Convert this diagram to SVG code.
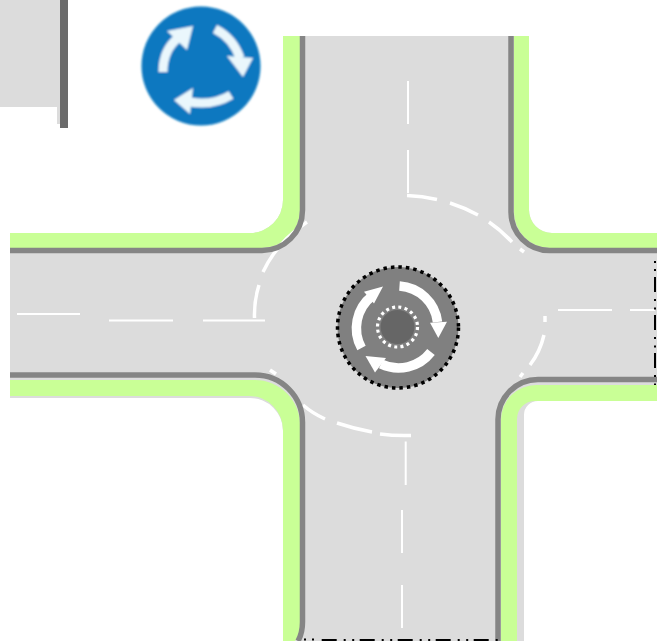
<svg xmlns="http://www.w3.org/2000/svg" width="659" height="641" viewBox="0 0 659 641">
<defs>
<style>
.road{fill:#dcdcdc}
.green{fill:#c9ff96}
.kerb{fill:none;stroke:#858585;stroke-width:5.5}
.mark{fill:none;stroke:#fff;stroke-width:2}
.ring{fill:none;stroke:#fff;stroke-width:3.2}
.arw{fill:none;stroke:#fff;stroke-width:9.5}
.head{fill:#fff}
.sa{fill:none;stroke:#eaf7fc;stroke-width:9}
.sh{fill:#eaf7fc}
.edge{fill:none;stroke:#000;stroke-width:2;stroke-dasharray:15 7 2 6.5 2 5.5}
</style>
<filter id="soft" x="-10%" y="-10%" width="120%" height="120%"><feGaussianBlur stdDeviation="0.8"/></filter>
</defs>
<rect width="659" height="641" fill="#fff"/>
<g id="legend-fragment">
<rect x="0" y="0" width="60" height="107" class="road"/>
<rect x="57" y="107" width="3" height="17" class="road"/>
<rect x="60" y="0" width="8" height="128" fill="#6b6b6b"/>
</g>
<g id="sign" filter="url(#soft)">
<circle cx="201" cy="66" r="59.500" fill="#0a78c0"/>
<path class="sa" d="M215,29 Q233,38 240,58"/><path class="sh" d="M227,56 L253,58 L243,77Z"/>
<path class="sa" d="M163,72 Q163,50 178,38"/><path class="sh" d="M167,31 L193,26 L187,50Z"/>
<path class="sa" d="M231,95 Q213,106 190,102"/><path class="sh" d="M193,88 L174,100 L190,114Z"/>
</g>
<g id="road">
<path class="road" d="M283,36 H529 V210 A23,23 0 0 0 552,233 H657 V401 H538 A14,14 0 0 0 524,415 V641 H283 V431 A33,33 0 0 0 250,398 H10 V233 H250 A33,33 0 0 0 283,200 Z"/>
<path class="green" d="M283,36 H300 V210 A38,38 0 0 1 262,248 H10 V233 H250 A33,33 0 0 0 283,200 Z"/>
<path class="green" d="M514,36 H529 V210 A23,23 0 0 0 552,233 H657 V248 H550 A36,36 0 0 1 514,212 Z"/>
<path class="green" d="M10,380 H255 A45,45 0 0 1 300,425 V625 Q300,634 295,641 H283 V430 A34,34 0 0 0 249,396 H10 Z"/>
<path class="green" d="M501,641 V420 A35,35 0 0 1 536,385 H657 V401 H535 A18,18 0 0 0 517,419 V641 Z"/>
</g>
<g id="markings">
<path class="mark" d="M408,81 V124 M408,150 V193"/>
<path class="mark" d="M17,314 H80 M109,320.500 H173 M203,320.500 H265"/>
<path class="mark" d="M558,310 H612 M630,310 H655"/>
<path class="mark" d="M405.700,441.500 V485 M402,510 V553 M402,585 V628"/>
<g fill="none" stroke="#fff" stroke-width="3.500">
<path d="M254.500,318 A146,120 0 0 1 259,285"/>
<path d="M263,272 A146,120 0 0 1 307,222"/>
<path d="M407,195.500 A146,120 0 0 1 437,199.500"/>
<path d="M450,203 A146,120 0 0 1 478,215"/>
<path d="M489,222 A146,120 0 0 1 512,242"/>
<path d="M520,249 L524,252"/>
<path d="M545,316 V322"/>
<path d="M544,335 Q540,352 530,365"/>
<path d="M523,373 L520,377"/>
<path d="M411,435.500 Q395,436 380,434"/>
<path d="M372,432 Q355,429 337,423"/>
<path d="M325,419 Q312,413 303,405"/>
<path d="M276,374 L270,370"/>
</g>
</g>
<g id="kerbs">
<path class="kerb" d="M302.500,36 V210 A40.500,40.500 0 0 1 262,250.500 H10"/>
<path class="kerb" d="M511,36 V212 A38.500,38.500 0 0 0 549.500,250.500 H657"/>
<path class="kerb" d="M10,375 H255 A47.500,47.500 0 0 1 302.500,422.500 V622 Q302.500,633 298,641"/>
<path class="kerb" d="M498,641 V420 A40,40 0 0 1 538,379.500 H657"/>
</g>
<g id="island">
<circle cx="398" cy="327.500" r="60.500" fill="#808080" stroke="#000" stroke-width="3.500" stroke-dasharray="3.500 4"/>
<circle cx="397.500" cy="327" r="17" fill="#666"/>
<circle cx="397.500" cy="327" r="20" class="ring" stroke-dasharray="3 3.300"/>
<path class="arw" d="M399.500,286 A41,41 0 0 1 437.500,322"/>
<path class="head" d="M430,322.700 L447,321.700 L438.300,338Z"/>
<path class="arw" d="M361.500,348 A41,41 0 0 1 372,296"/>
<path class="head" d="M383,286.500 L364,291.700 L374,303.500Z"/>
<path class="arw" d="M431,352 A41,41 0 0 1 381,364"/>
<path class="head" d="M365.500,356 L386,358 L375,372.500Z"/>
</g>
<g id="edges">
<path class="edge" d="M655,277 V385"/>
<path class="edge" d="M321.700,640 H500"/>
<path d="M655,261 V263 M655,269 V271 M304,639.500 H306 M312,639.500 H314" stroke="#000" stroke-width="2" fill="none"/>
</g>
</svg>
